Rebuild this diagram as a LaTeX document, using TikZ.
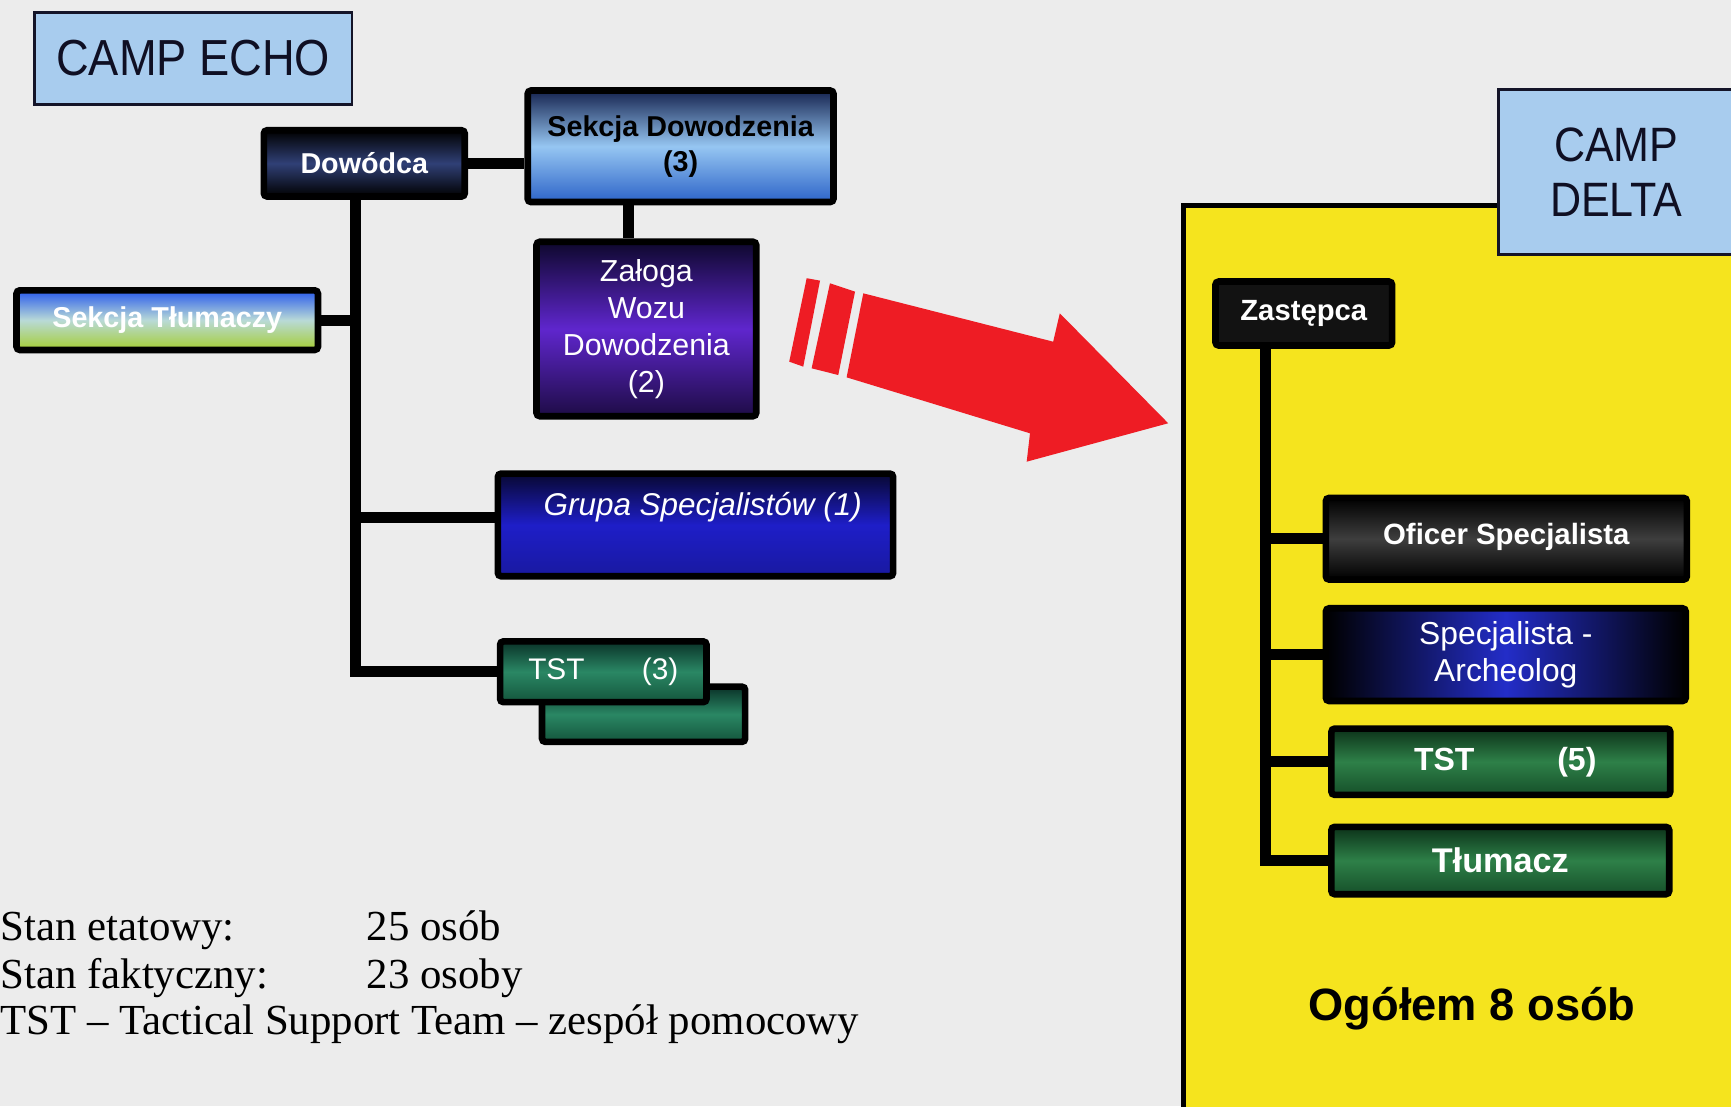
\documentclass[tikz,border=0pt]{standalone}
\usepackage{graphicx}
\usepackage{fontspec}
\setmainfont{Liberation Sans}
\newfontfamily\tnrfont{Liberation Serif}
\newcommand\fsz[2]{\fontsize{#1}{#2}\selectfont}
\newcommand\vstretch[1]{\scalebox{1}[1.12]{#1}}
\definecolor{bg}{RGB}{236,236,236}
\definecolor{campblue}{RGB}{168,204,238}
\definecolor{campline}{RGB}{20,20,40}
\definecolor{camptext}{RGB}{15,15,35}
\definecolor{yellowp}{RGB}{245,228,30}
\definecolor{arrowred}{RGB}{238,28,36}
\definecolor{dowmid}{RGB}{48,64,118}
\definecolor{sektop}{RGB}{22,36,80}
\definecolor{sekmid}{RGB}{150,198,242}
\definecolor{sekbot}{RGB}{45,100,200}
\definecolor{zaltop}{RGB}{14,8,45}
\definecolor{zalmid}{RGB}{95,38,205}
\definecolor{zalbot}{RGB}{30,12,70}
\definecolor{tltop}{RGB}{40,90,235}
\definecolor{tlmid}{RGB}{185,218,215}
\definecolor{tlbot}{RGB}{165,205,50}
\definecolor{grtop}{RGB}{8,8,50}
\definecolor{grmid}{RGB}{30,30,200}
\definecolor{grbot}{RGB}{25,25,160}
\definecolor{tsttop}{RGB}{10,50,40}
\definecolor{tstmid}{RGB}{42,135,100}
\definecolor{tstbot}{RGB}{20,85,60}
\definecolor{gtop}{RGB}{12,50,25}
\definecolor{gmid}{RGB}{46,128,72}
\definecolor{gbot}{RGB}{22,80,42}
\definecolor{ofmid}{RGB}{62,62,62}
\definecolor{spmid}{RGB}{35,45,200}
\definecolor{zasfill}{RGB}{18,18,18}
\begin{document}
\begin{tikzpicture}[x=0.5pt,y=-0.5pt,
  box/.style={draw=black, line width=3pt, rounded corners=1.5pt, inner sep=0pt, align=center, text=white},
  conn/.style={draw=black, line width=5pt, line join=miter},
  camp/.style={draw=campline, line width=1.2pt, fill=campblue, inner sep=0pt, align=center, text=camptext},
  dowshade/.style={top color=black, bottom color=black, middle color=dowmid},
  sekshade/.style={top color=sektop, bottom color=sekbot, middle color=sekmid},
  zalshade/.style={top color=zaltop, bottom color=zalbot, middle color=zalmid},
  tlshade/.style={top color=tltop, bottom color=tlbot, middle color=tlmid},
  grshade/.style={top color=grtop, bottom color=grbot, middle color=grmid},
  tstshade/.style={top color=tsttop, bottom color=tstbot, middle color=tstmid},
  gshade/.style={top color=gtop, bottom color=gbot, middle color=gmid},
  ofshade/.style={top color=black, bottom color=black, middle color=ofmid},
  spshade/.style={left color=black, right color=black, middle color=spmid},
  notetext/.style={anchor=base west, inner sep=0pt, font=\tnrfont\fsz{19.4pt}{21.5pt}, text=black}
]
\useasboundingbox (0,0) rectangle (1568,1002);
\clip (0,0) rectangle (1568,1002);
\fill[bg] (0,0) rectangle (1568,1002);

% right panel
\node[draw=black, line width=2pt, fill=yellowp, inner sep=0pt, minimum width=260pt, minimum height=420pt, anchor=north west] (panel) at (1070,184) {};
\node[camp, minimum width=106.8pt, minimum height=74.8pt, font=\fsz{19.5pt}{25pt}] (delta) at (1464,156) {\vstretch{CAMP}\\\vstretch{DELTA}};

% left title
\node[camp, minimum width=143.8pt, minimum height=41.8pt, font=\fsz{20.5pt}{24pt}] (echo) at (175,53) {\vstretch{CAMP ECHO}};

% red arrow
\fill[arrowred] (730.7,252) -- (742.8,254.2) -- (727.6,332.1) -- (714.9,327.6) -- cycle;
\fill[arrowred] (751.8,256.6) -- (774.5,264.2) -- (759.3,339.7) -- (735.2,333.6) -- cycle;
\fill[arrowred] (782,265.7) -- (954,309.5) -- (960,283.8) -- (1058.2,383.4) -- (930,418.2) -- (933,392.5) -- (766.9,341.8) -- cycle;

% left tree boxes
\node[box, dowshade, minimum width=91pt, minimum height=30pt, font=\bfseries\fsz{13pt}{16pt}] (dow) at (330,148) {Dowódca};
\node[box, sekshade, text=black, minimum width=138.5pt, minimum height=50.5pt, font=\bfseries\fsz{13pt}{16pt}] (sek) at (616.5,132.5) {Sekcja Dowodzenia\\(3)};
\node[box, zalshade, minimum width=99.5pt, minimum height=79pt, font=\fsz{13.75pt}{16.75pt}] (zal) at (585.5,298) {Załoga\\Wozu\\Dowodzenia\\(2)};
\node[box, tlshade, minimum width=136.5pt, minimum height=27pt, font=\bfseries\fsz{13pt}{16pt}] (tlum) at (151.5,290) {Sekcja Tłumaczy};
\node[box, grshade, minimum width=179pt, minimum height=46.5pt] (grupa) at (630,475.5) {};
\node[anchor=base west, inner sep=0pt, text=white, font=\itshape\fsz{14.25pt}{17pt}] (grupaT) at (492,466.5) {Grupa Specjalistów (1)};
\node[box, tstshade, minimum width=92pt, minimum height=25pt] (tsts) at (583,647) {};
\node[box, tstshade, minimum width=93.5pt, minimum height=27.5pt, font=\fsz{13.5pt}{16pt}] (tst) at (546.5,608.5) {TST\hspace{26pt}(3)};

% right tree boxes
\node[box, fill=zasfill, minimum width=80pt, minimum height=29pt, font=\bfseries\fsz{13.25pt}{16pt}] (zas) at (1181,284) {Zastępca};
\node[box, ofshade, minimum width=163.5pt, minimum height=37pt, font=\bfseries\fsz{13.3pt}{16pt}] (ofi) at (1364.5,488) {\raisebox{4pt}{Oficer Specjalista}};
\node[box, spshade, minimum width=163pt, minimum height=42pt, font=\fsz{14.4pt}{17pt}] (spe) at (1364,593) {Specjalista -\\Archeolog};
\node[box, gshade, minimum width=153.5pt, minimum height=30pt, font=\bfseries\fsz{14.5pt}{17pt}] (tst5) at (1359.5,690) {\hspace*{4pt}TST\hspace{37.5pt}(5)};
\node[box, gshade, minimum width=153pt, minimum height=30.5pt, font=\bfseries\fsz{15.5pt}{18pt}] (tlu) at (1359,779.5) {Tłumacz};
\node[anchor=base, inner sep=0pt, text=black, font=\bfseries\fsz{20.5pt}{24pt}] (ogolem) at (1333.5,924) {Ogółem 8 osób};

% connectors, left tree
\coordinate (tL) at (322,0);
\coordinate (zx) at (569,0);
\draw[conn] (dow.south -| tL) -- (tst.west -| tL) -- (tst.west);
\draw[conn] (tlum.east) -- (tlum.east -| tL);
\draw[conn] ([yshift=3.25pt]grupa.west) -- ([yshift=3.25pt]grupa.west -| tL);
\draw[conn] (dow.east) -- (dow.east -| sek.west);
\draw[conn] (sek.south -| zx) -- (zal.north -| zx);

% connectors, right tree
\coordinate (tR) at (1146,0);
\draw[conn] (zas.south -| tR) -- (tlu.west -| tR) -- (tlu.west);
\draw[conn] (ofi.west -| tR) -- (ofi.west);
\draw[conn] (spe.west -| tR) -- (spe.west);
\draw[conn] (tst5.west -| tR) -- (tst5.west);

% notes
\node[notetext] (n1) at (0,852) {Stan etatowy:};
\node[notetext] (n1v) at (332,852) {25 osób};
\node[notetext] (n2) at (0,895) {Stan faktyczny:};
\node[notetext] (n2v) at (332,895) {23 osoby};
\node[notetext] (n3) at (0,937.5) {TST – Tactical Support Team – zespół pomocowy};
\end{tikzpicture}
\end{document}
